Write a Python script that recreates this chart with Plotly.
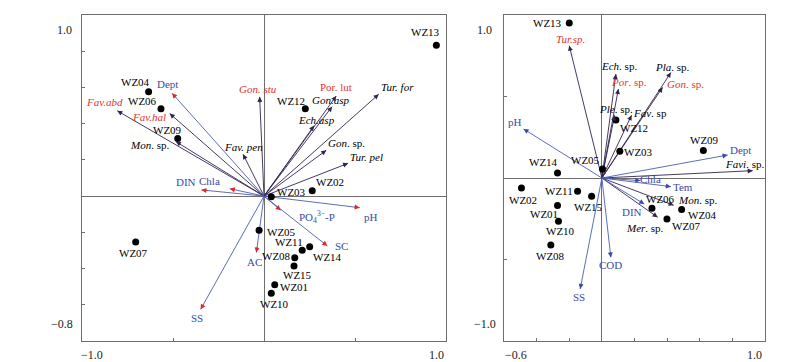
import math
import plotly.graph_objects as go

# ---------------- data: left panel ----------------
L_site_names = ["WZ01", "WZ02", "WZ03", "WZ04", "WZ05", "WZ06", "WZ07", "WZ08",
                "WZ09", "WZ10", "WZ11", "WZ12", "WZ13", "WZ14", "WZ15"]
L_site_x = [0.059, 0.265, 0.040, -0.634, -0.027, -0.566, -0.705, 0.169,
            -0.474, 0.040, 0.210, 0.227, 0.947, 0.251, 0.165]
L_site_y = [-0.489, 0.029, -0.004, 0.576, -0.189, 0.483, -0.253, -0.340,
            0.318, -0.537, -0.299, 0.483, 0.833, -0.279, -0.386]

L_spec_names = ["Fav.abd", "Fav.hal", "Mon. sp.", "Fav. pen", "Gon. stu", "Por. lut",
                "Gon.asp", "Ech.asp", "Tur. for", "Gon. sp.", "Tur. pel"]
L_spec_x = [-0.806, -0.518, -0.484, -0.115, -0.024, 0.397, 0.374, 0.275, 0.630, 0.342, 0.462]
L_spec_y = [0.471, 0.456, 0.301, 0.231, 0.548, 0.553, 0.494, 0.389, 0.562, 0.253, 0.181]

L_env_names = ["Dept", "DIN", "Chla", "pH", "PO4", "SC", "AC", "SS"]
L_env_x = [-0.505, -0.344, -0.188, 0.526, 0.092, 0.348, -0.042, -0.348]
L_env_y = [0.568, 0.034, 0.041, -0.064, -0.078, -0.275, -0.312, -0.625]

L_xrange = [-1.0, 1.0]
L_yrange = [-0.8, 1.0]
L_xticks = [-0.5, 0.5]
L_yticks = [-0.6, -0.4, -0.2, 0.2, 0.4, 0.6, 0.8]
L_tick_labels = ["1.0", "\u22120.8", "\u22121.0", "1.0"]

# ---------------- data: right panel ----------------
R_site_names = ["WZ01", "WZ02", "WZ03", "WZ04", "WZ05", "WZ06", "WZ07", "WZ08",
                "WZ09", "WZ10", "WZ11", "WZ12", "WZ13", "WZ14", "WZ15"]
R_site_x = [-0.272, -0.493, 0.110, 0.489, 0.004, 0.307, 0.399, -0.313,
            0.622, -0.266, -0.149, 0.086, -0.200, -0.272, -0.063]
R_site_y = [-0.169, -0.061, 0.164, -0.194, 0.055, -0.186, -0.252, -0.411,
            0.168, -0.266, -0.082, 0.356, 0.951, 0.031, -0.112]

R_spec_names = ["Tur.sp.", "Ech. sp.", "Por. sp.", "Ple. sp.", "Fav. sp",
                "Pla. sp.", "Gon. sp.", "Favi. sp.", "Mon. sp.", "Mer. sp."]
R_spec_x = [-0.200, 0.086, 0.101, 0.078, 0.182, 0.423, 0.372, 0.925, 0.440, 0.342]
R_spec_y = [0.812, 0.638, 0.546, 0.385, 0.385, 0.647, 0.556, 0.045, -0.167, -0.241]

R_env_names = ["pH", "Dept", "Chla", "Tem", "DIN", "COD", "SS"]
R_env_x = [-0.480, 0.771, 0.236, 0.423, 0.260, 0.055, -0.133]
R_env_y = [0.301, 0.141, -0.016, -0.053, -0.160, -0.487, -0.681]

R_xrange = [-0.6, 1.0]
R_yrange = [-1.0, 1.0]
R_xticks = [-0.4, -0.2, 0.2, 0.4, 0.6, 0.8]
R_yticks = [-0.5, 0.5]
R_tick_labels = ["1.0", "\u22121.0", "\u22120.6", "1.0"]

# ---------------- styles ----------------
FONT = "Liberation Serif, Times New Roman, serif"
RED = "#e5332a"
BLUE_TXT = "#3b4aa0"
BLUE_LINE = "#4c5cb0"
SPEC_LINE = "#33244f"
FRAME = "#6e6e6e"

W, H = 800, 362
L_dom_x = [74 / W, 438 / W]
R_dom_x = [496 / W, 757 / W]
dom_y = [1 - 333 / H, 1 - 7 / H]

fmt = {
    "Fav.abd": ("<i>Fav.abd</i>", RED), "Fav.hal": ("<i>Fav.hal</i>", RED),
    "Mon. sp.": ("<i>Mon</i>. sp.", "black"), "Fav. pen": ("<i>Fav. pen</i>", "black"),
    "Gon. stu": ("<i>Gon. stu</i>", RED), "Por. lut": ("Por. lut", RED),
    "Gon.asp": ("<i>Gon.asp</i>", "black"), "Ech.asp": ("<i>Ech.asp</i>", "black"),
    "Tur. for": ("<i>Tur. for</i>", "black"), "Gon. sp.": ("<i>Gon</i>. sp.", "black"),
    "Tur. pel": ("<i>Tur. pel</i>", "black"),
    "Tur.sp.": ("<i>Tur.sp.</i>", RED), "Ech. sp.": ("<i>Ech</i>. sp.", "black"),
    "Por. sp.": ("<i>Por</i>. sp.", RED), "Ple. sp.": ("<i>Ple</i>. sp.", "black"),
    "Fav. sp": ("<i>Fav</i>. sp", "black"), "Pla. sp.": ("<i>Pla</i>. sp.", "black"),
    "Favi. sp.": ("<i>Favi</i>. sp.", "black"), "Mer. sp.": ("<i>Mer</i>. sp.", "black"),
    "PO4": ("PO<sub>4</sub><sup>3\u2212</sup>-P", BLUE_TXT),
}
R_red = {"Gon. sp."}

# label offsets in pixels (dx right, dy down)
L_site_off = {"WZ01": (19, 2), "WZ02": (18, -9), "WZ03": (20, -5), "WZ04": (-13, -10),
              "WZ05": (22, 2), "WZ06": (-18, -8), "WZ07": (-2, 11), "WZ08": (-18, -2),
              "WZ09": (-10, -9), "WZ10": (3, 11), "WZ11": (-13, -8), "WZ12": (-14, -8),
              "WZ13": (-11, -13), "WZ14": (18, 10), "WZ15": (3, 9)}
L_spec_off = {"Fav.abd": (-13, -9), "Fav.hal": (-21, 3), "Mon. sp.": (-26, 3),
              "Fav. pen": (0, -7), "Gon. stu": (-2, -8), "Por. lut": (0, -9),
              "Gon.asp": (-2, -7), "Ech.asp": (2, -6), "Tur. for": (19, -7),
              "Gon. sp.": (20, -7), "Tur. pel": (18, -6)}
L_env_off = {"Dept": (-5, -9), "DIN": (-15, -8), "Chla": (-20, -8), "pH": (11, 9),
             "PO4": (36, 7), "SC": (14, 0), "AC": (-2, 9), "SS": (-4, 9)}
R_site_off = {"WZ01": (-14, 8), "WZ02": (2, 12), "WZ03": (19, 1), "WZ04": (21, 5),
              "WZ05": (-17, -9), "WZ06": (9, -9), "WZ07": (20, 7), "WZ08": (0, 11),
              "WZ09": (1, -11), "WZ10": (2, 10), "WZ11": (-19, 0), "WZ12": (18, 8),
              "WZ13": (-22, 0), "WZ14": (-14, -11), "WZ15": (-3, 11)}
R_spec_off = {"Tur.sp.": (1, -7), "Ech. sp.": (3, -8), "Por. sp.": (11, -7),
              "Ple. sp.": (1, -6), "Fav. sp": (18, -2), "Pla. sp.": (2, -6),
              "Gon. sp.": (23, -3), "Favi. sp.": (-8, -7), "Mon. sp.": (24, -5),
              "Mer. sp.": (-13, 11)}
R_env_off = {"pH": (-9, -7), "Dept": (13, -5), "Chla": (10, -2), "Tem": (12, 0),
             "DIN": (-12, 8), "COD": (0, 8), "SS": (-1, 8)}

fig = go.Figure()
annotations = []


def scale(dom_x, xr, yr):
    sx = (dom_x[1] - dom_x[0]) * W / (xr[1] - xr[0])
    sy = (dom_y[1] - dom_y[0]) * H / (yr[1] - yr[0])
    return sx, sy


def shafts(xs, ys, color, xa, ya):
    lx, ly = [], []
    for x, y in zip(xs, ys):
        lx += [0, x, None]
        ly += [0, y, None]
    fig.add_trace(go.Scatter(x=lx, y=ly, mode="lines", xaxis=xa, yaxis=ya,
                             line=dict(color=color, width=0.9), hoverinfo="skip"))


def heads(xs, ys, color, xa, ya, sx, sy):
    xref = "x" if xa == "x" else "x2"
    yref = "y" if ya == "y" else "y2"
    for x, y in zip(xs, ys):
        dx, dy = x * sx, -y * sy
        ln = math.hypot(dx, dy)
        L = 7
        annotations.append(dict(x=x, y=y, xref=xref, yref=yref, text="",
                                showarrow=True, arrowhead=2, arrowsize=1.0,
                                arrowwidth=1.0, arrowcolor=color,
                                ax=-L * dx / ln, ay=-L * dy / ln, standoff=0))


def labels(names, xs, ys, offs, default_color, xa, ya, red_set=()):
    xref = "x" if xa == "x" else "x2"
    yref = "y" if ya == "y" else "y2"
    for n, x, y in zip(names, xs, ys):
        txt, col = fmt.get(n, (n, default_color))
        if n in red_set:
            col = RED
        if col == "black" and default_color != "black":
            col = default_color
        dx, dy = offs[n]
        annotations.append(dict(x=x, y=y, xref=xref, yref=yref, text=txt,
                                showarrow=False, xshift=dx, yshift=-dy,
                                font=dict(family=FONT, size=11, color=col)))


# ---- left panel ----
sxL, syL = scale(L_dom_x, L_xrange, L_yrange)
shafts(L_spec_x, L_spec_y, SPEC_LINE, "x", "y")
shafts(L_env_x, L_env_y, BLUE_LINE, "x", "y")
fig.add_trace(go.Scatter(x=L_site_x, y=L_site_y, mode="markers", xaxis="x", yaxis="y",
                         marker=dict(color="black", size=7), hoverinfo="skip"))
heads(L_spec_x, L_spec_y, SPEC_LINE, "x", "y", sxL, syL)
heads(L_env_x, L_env_y, "#e0262b", "x", "y", sxL, syL)
labels(L_site_names, L_site_x, L_site_y, L_site_off, "black", "x", "y")
labels(L_spec_names, L_spec_x, L_spec_y, L_spec_off, "black", "x", "y")
labels(L_env_names, L_env_x, L_env_y, L_env_off, BLUE_TXT, "x", "y")

# ---- right panel ----
sxR, syR = scale(R_dom_x, R_xrange, R_yrange)
shafts(R_spec_x, R_spec_y, SPEC_LINE, "x2", "y2")
shafts(R_env_x, R_env_y, BLUE_LINE, "x2", "y2")
fig.add_trace(go.Scatter(x=R_site_x, y=R_site_y, mode="markers", xaxis="x2", yaxis="y2",
                         marker=dict(color="black", size=7), hoverinfo="skip"))
heads(R_spec_x, R_spec_y, SPEC_LINE, "x2", "y2", sxR, syR)
heads(R_env_x, R_env_y, "#3a4aa8", "x2", "y2", sxR, syR)
labels(R_site_names, R_site_x, R_site_y, R_site_off, "black", "x2", "y2")
labels(R_spec_names, R_spec_x, R_spec_y, R_spec_off, "black", "x2", "y2", R_red)
labels(R_env_names, R_env_x, R_env_y, R_env_off, BLUE_TXT, "x2", "y2")

# ---- corner tick labels ----
tick_pos_L = [(56, 22), (54, 316), (84, 347), (428, 347)]
tick_pos_R = [(477, 22), (477, 316), (508, 347), (746, 347)]
for txt, (px, py) in list(zip(L_tick_labels, tick_pos_L)) + list(zip(R_tick_labels, tick_pos_R)):
    annotations.append(dict(x=px / W, y=1 - py / H, xref="paper", yref="paper", text=txt,
                            showarrow=False, xanchor="center", yanchor="middle",
                            font=dict(family=FONT, size=12, color="#222")))

axis_common = dict(showgrid=False, zeroline=True, zerolinecolor=FRAME, zerolinewidth=1,
                   showline=True, linecolor=FRAME, linewidth=1, mirror=True,
                   ticks="inside", ticklen=3, tickcolor=FRAME, showticklabels=False,
                   fixedrange=True)

fig.update_layout(
    width=W, height=H, margin=dict(l=0, r=0, t=0, b=0),
    paper_bgcolor="white", plot_bgcolor="white", showlegend=False,
    xaxis=dict(domain=L_dom_x, range=L_xrange, tickvals=L_xticks, anchor="y", **axis_common),
    yaxis=dict(domain=dom_y, range=L_yrange, tickvals=L_yticks, anchor="x", **axis_common),
    xaxis2=dict(domain=R_dom_x, range=R_xrange, tickvals=R_xticks, anchor="y2", **axis_common),
    yaxis2=dict(domain=dom_y, range=R_yrange, tickvals=R_yticks, anchor="x2", **axis_common),
    annotations=annotations,
)

fig.write_html("out.html")
